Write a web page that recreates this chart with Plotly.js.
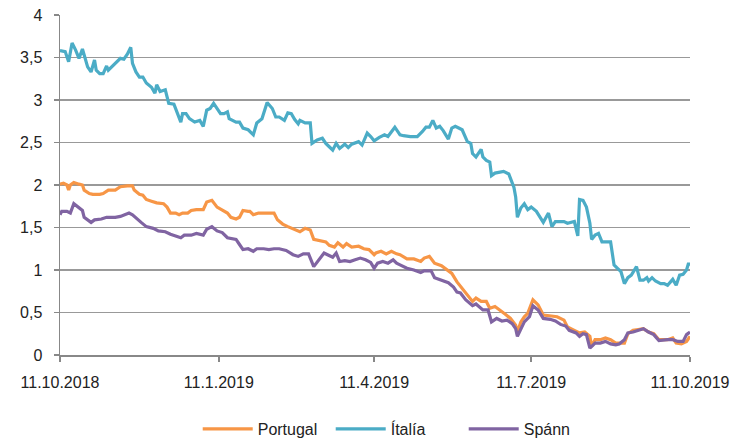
<!DOCTYPE html>
<html>
<head>
<meta charset="utf-8">
<script src="https://cdn.plot.ly/plotly-3.0.1.min.js"></script>
<style>html,body{margin:0;padding:0;background:#fff;}#chart{width:735px;height:440px;}</style>
</head>
<body>
<div id="chart"></div>
<script>
// Days counted from 11.10.2018
const startDate = [2018, 9, 11];
const seriesNames = ["Portugal", "Ítalía", "Spánn"];
const tickDates = ["2018-10-11", "2019-01-11", "2019-04-11", "2019-07-11", "2019-10-11"];
const tickLabels = ["11.10.2018", "11.1.2019", "11.4.2019", "11.7.2019", "11.10.2019"];

const ptDays = [0,2,4,5,6,8,11,13,14,17,19,23,25,28,32,35,39,42,43,46,48,50,53,56,60,62,64,67,69,71,74,76,79,83,85,88,91,94,97,99,102,104,106,109,
  110,112,115,118,121,124,126,129,132,134,137,139,142,145,147,151,154,156,159,161,164,166,169,173,176,179,182,183,186,189,192,195,
  197,201,205,209,211,214,217,221,224,227,230,233,236,239,241,244,247,249,252,255,258,261,264,265,267,269,271,274,277,280,284,288,292,294,298,301,304,307,308,310,313,316,319,322,324,327,329,332,335,338,341,344,347,350,352,355,357,360,363,365];
const ptVals = [2.01,2.02,2.00,1.94,2.00,2.03,2.01,2.00,1.94,1.90,1.89,1.89,1.90,1.94,1.94,1.98,1.99,1.99,1.94,1.89,1.88,1.83,1.81,1.79,1.78,1.74,1.67,1.67,1.65,1.67,1.67,1.70,1.71,1.71,1.80,1.82,1.74,1.71,1.67,1.62,1.60,1.62,1.70,1.69,
  1.69,1.65,1.67,1.67,1.67,1.67,1.59,1.54,1.51,1.49,1.47,1.45,1.49,1.47,1.36,1.34,1.33,1.29,1.27,1.32,1.27,1.31,1.27,1.28,1.25,1.24,1.18,1.20,1.22,1.19,1.22,1.19,
  1.18,1.13,1.13,1.10,1.14,1.16,1.08,1.05,1.00,0.96,0.86,0.78,0.71,0.63,0.67,0.63,0.63,0.55,0.57,0.53,0.48,0.43,0.35,0.27,0.39,0.45,0.49,0.65,0.59,0.47,0.46,0.45,0.41,0.33,0.29,0.26,0.27,0.22,0.10,0.18,0.18,0.20,0.18,0.14,0.14,0.14,0.25,0.29,0.30,0.31,0.27,0.25,0.18,0.18,0.18,0.20,0.14,0.13,0.16,0.22];

const itDays = [0,3,5,6,7,9,11,13,15,16,18,20,21,23,25,27,28,31,35,37,39,41,42,44,46,48,50,53,55,56,58,61,63,66,68,70,71,73,75,78,81,83,85,87,89,91,93,95,97,98,102,104,106,109,
  112,114,117,120,123,125,127,130,132,134,136,138,139,142,145,146,149,152,154,156,158,160,162,165,167,169,173,175,178,180,182,185,188,190,192,194,197,199,203,207,210,212,214,216,218,220,222,225,227,
  229,231,233,236,238,239,241,244,245,247,249,250,252,257,260,263,264,265,267,269,271,273,276,280,283,285,287,292,294,298,300,301,
  303,305,307,308,310,312,314,319,321,323,325,327,329,331,334,336,338,340,341,343,345,348,350,352,355,357,359,361,363,364,365];
const itVals = [3.58,3.57,3.45,3.55,3.67,3.59,3.49,3.60,3.45,3.39,3.33,3.47,3.35,3.31,3.31,3.40,3.35,3.41,3.49,3.48,3.54,3.62,3.43,3.33,3.27,3.27,3.20,3.15,3.08,3.18,3.10,3.12,2.96,2.95,2.84,2.74,2.84,2.84,2.78,2.74,2.76,2.69,2.88,2.90,2.96,2.90,2.84,2.84,2.86,2.78,2.74,2.74,2.67,2.65,
  2.59,2.73,2.78,2.97,2.90,2.80,2.80,2.76,2.85,2.84,2.77,2.72,2.76,2.73,2.73,2.49,2.53,2.55,2.49,2.45,2.41,2.49,2.43,2.48,2.44,2.48,2.51,2.47,2.61,2.57,2.52,2.56,2.59,2.57,2.63,2.68,2.59,2.58,2.57,2.57,2.63,2.68,2.68,2.76,2.67,2.69,2.64,2.54,2.67,
  2.69,2.67,2.65,2.51,2.49,2.37,2.33,2.42,2.33,2.29,2.27,2.11,2.14,2.16,2.13,1.97,1.86,1.62,1.73,1.78,1.71,1.74,1.69,1.56,1.67,1.51,1.57,1.57,1.55,1.57,1.40,1.83,
  1.82,1.74,1.55,1.36,1.41,1.43,1.33,1.33,1.06,1.02,0.98,0.84,0.91,0.94,1.04,0.88,0.88,0.91,0.87,0.91,0.87,0.84,0.84,0.82,0.89,0.82,0.94,0.95,1.00,1.07,1.07];

const esDays = [0,1,4,6,8,11,13,14,16,18,20,24,27,32,35,38,40,42,44,47,50,54,57,61,64,67,70,72,76,79,83,85,88,91,94,97,99,102,104,106,
  109,112,114,118,121,124,127,131,135,138,141,144,147,150,153,155,158,160,162,165,168,171,174,177,180,182,184,187,190,193,195,
  197,201,205,209,211,215,217,221,225,228,230,232,235,239,241,245,248,250,253,256,259,262,264,265,267,269,272,274,277,280,284,287,290,293,295,299,301,303,305,307,310,313,316,319,322,324,327,329,332,335,338,341,344,347,350,352,355,358,361,363,365];
const esVals = [1.65,1.69,1.69,1.67,1.78,1.73,1.70,1.62,1.59,1.56,1.59,1.60,1.62,1.62,1.63,1.66,1.67,1.65,1.61,1.56,1.51,1.49,1.46,1.45,1.42,1.40,1.38,1.41,1.41,1.43,1.41,1.48,1.51,1.46,1.44,1.38,1.37,1.36,1.30,1.24,
  1.25,1.22,1.25,1.25,1.24,1.25,1.25,1.23,1.18,1.16,1.19,1.19,1.04,1.12,1.20,1.18,1.15,1.20,1.10,1.11,1.10,1.12,1.14,1.12,1.09,1.02,1.08,1.10,1.08,1.12,1.08,
  1.06,1.02,1.00,0.97,0.99,0.99,0.91,0.88,0.85,0.80,0.74,0.73,0.65,0.58,0.60,0.53,0.53,0.39,0.43,0.40,0.41,0.37,0.31,0.22,0.31,0.39,0.45,0.58,0.53,0.43,0.42,0.40,0.36,0.34,0.29,0.26,0.22,0.25,0.24,0.08,0.14,0.14,0.16,0.13,0.12,0.13,0.18,0.26,0.27,0.29,0.31,0.27,0.24,0.17,0.18,0.18,0.18,0.16,0.16,0.24,0.27];

const colors = ["#F79646", "#4BACC6", "#8064A2"];

function toDates(days) {
  return days.map(d => new Date(Date.UTC(startDate[0], startDate[1], startDate[2] + d)).toISOString().slice(0, 10));
}

const allDays = [ptDays, itDays, esDays];
const allVals = [ptVals, itVals, esVals];
const traces = seriesNames.map((name, i) => ({
  type: "scatter",
  mode: "lines",
  name: name,
  x: toDates(allDays[i]),
  y: allVals[i],
  line: { color: colors[i], width: 3.2 },
  hoverinfo: "skip"
}));

const font = "'Liberation Sans', Arial, sans-serif";
const layout = {
  width: 735,
  height: 440,
  margin: { l: 60, r: 45, t: 15, b: 85 },
  paper_bgcolor: "#fff",
  plot_bgcolor: "#fff",
  separators: ", ",
  font: { family: font, size: 16, color: "#222" },
  showlegend: true,
  legend: {
    orientation: "h",
    x: 0.269,
    xanchor: "left",
    xref: "container",
    y: 0.025,
    yanchor: "middle",
    yref: "container",
    font: { family: font, size: 16, color: "#222" },
    itemwidth: 50,
    entrywidth: 68,
    entrywidthmode: "pixels"
  },
  xaxis: {
    type: "date",
    range: [tickDates[0], tickDates[tickDates.length - 1]],
    tickmode: "array",
    tickvals: tickDates,
    ticktext: tickLabels,
    ticks: "outside",
    ticklen: 5,
    tickwidth: 1.5,
    tickcolor: "#888",
    ticklabelstandoff: 7,
    showgrid: false,
    showline: true,
    linecolor: "#888",
    linewidth: 1.5,
    zeroline: false,
    tickfont: { family: font, size: 16, color: "#222" },
    fixedrange: true
  },
  yaxis: {
    range: [0, 4],
    dtick: 0.5,
    tick0: 0,
    ticks: "outside",
    ticklen: 5,
    tickwidth: 1.5,
    tickcolor: "#888",
    ticklabelstandoff: 8,
    showgrid: true,
    gridcolor: "#999",
    gridwidth: 1.5,
    showline: true,
    linecolor: "#888",
    linewidth: 1.5,
    zeroline: false,
    tickfont: { family: font, size: 16, color: "#222" },
    fixedrange: true
  }
};

Plotly.newPlot("chart", traces, layout, { displayModeBar: false, staticPlot: true });
</script>
</body>
</html>
